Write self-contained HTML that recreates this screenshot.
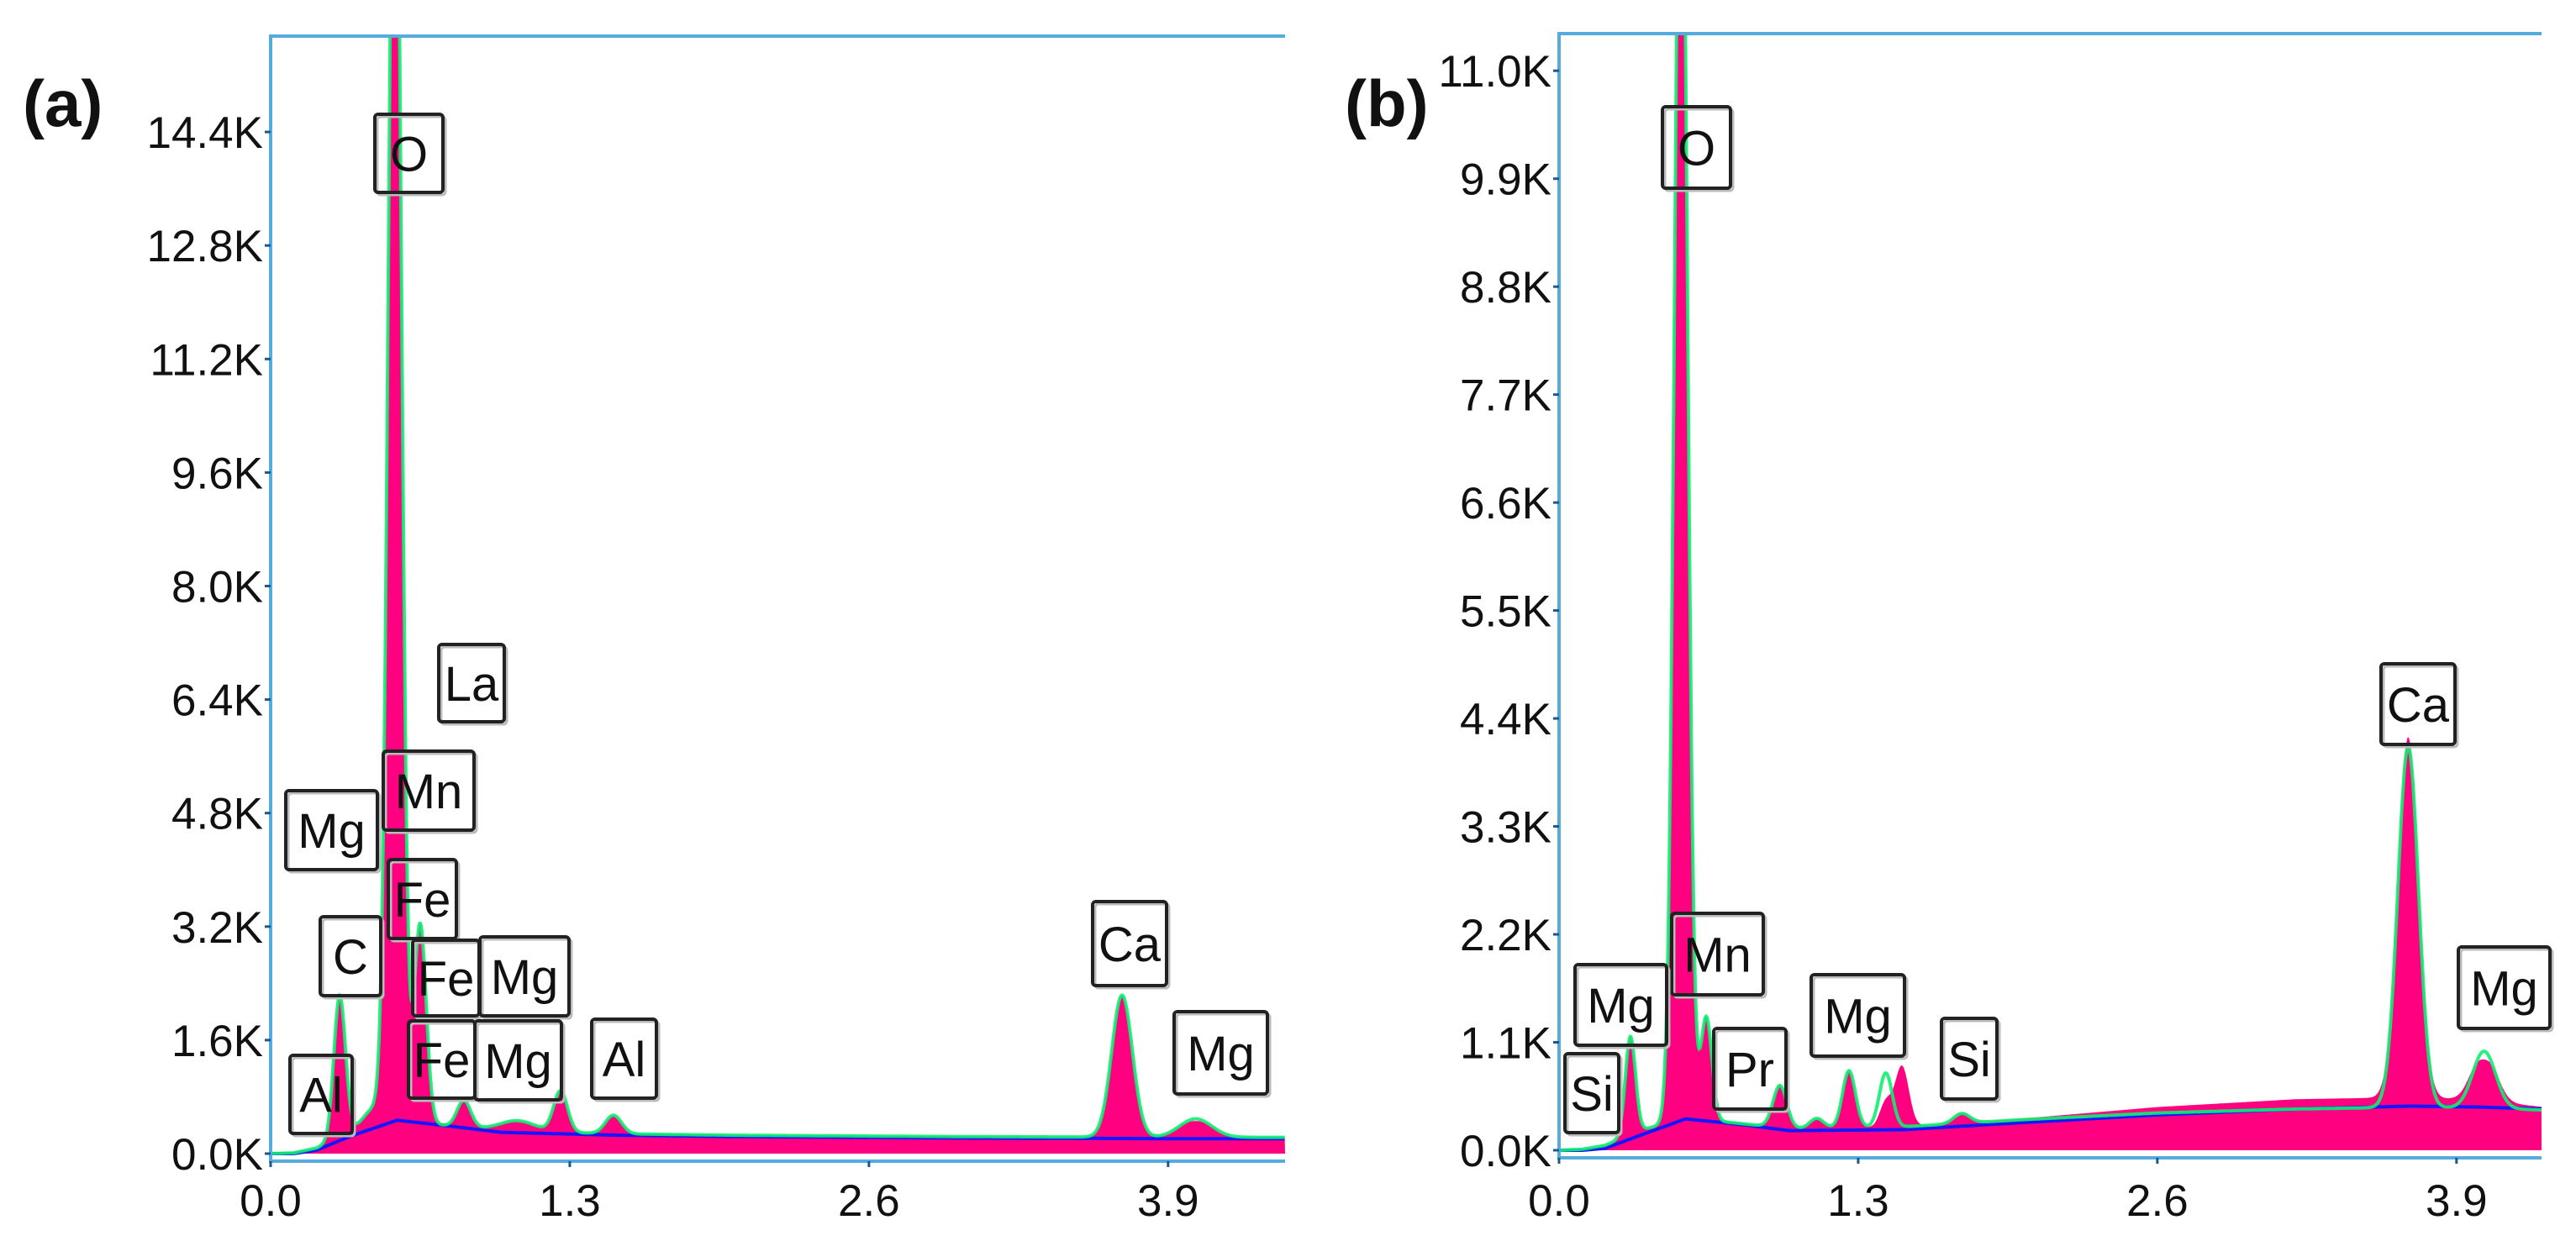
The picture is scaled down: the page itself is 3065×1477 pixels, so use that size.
<!DOCTYPE html>
<html>
<head>
<meta charset="utf-8">
<style>
  html,body{margin:0;padding:0;background:#fff;}
  svg{display:block;}
  text{font-family:"Liberation Sans",sans-serif;}
</style>
</head>
<body>
<svg id="fig" width="3065" height="1477" viewBox="0 0 3065 1477" xmlns="http://www.w3.org/2000/svg">
  <defs>
    <clipPath id="clipA"><rect x="322" y="43" width="1207" height="1336"/></clipPath>
    <clipPath id="clipB"><rect x="1855" y="40" width="1169" height="1336"/></clipPath>
  </defs>
  <text x="27" y="150" font-size="78" font-weight="bold" fill="#111">(a)</text>
  <text x="1600" y="150" font-size="78" font-weight="bold" fill="#111">(b)</text>
  <g id="panelA"></g>
  <g id="panelB"></g>
</svg>
<script>
// ---------- Panel (a) data ----------
const aXTicks = [0.0, 1.3, 2.6, 3.9];
const aXTickLabels = ["0.0", "1.3", "2.6", "3.9"];
const aYTicks = [0, 1.6, 3.2, 4.8, 6.4, 8.0, 9.6, 11.2, 12.8, 14.4];
const aYTickLabels = ["0.0K","1.6K","3.2K","4.8K","6.4K","8.0K","9.6K","11.2K","12.8K","14.4K"];
const aContE = [0, 0.1, 0.2, 0.35, 0.55, 0.8, 1.0, 1.5, 2.0, 3.0, 4.0, 4.41];
const aContV = [0, 0.01, 0.08, 0.3, 0.48, 0.38, 0.32, 0.28, 0.26, 0.24, 0.23, 0.23];
const aBgV   = [0, 0, 0.05, 0.25, 0.47, 0.38, 0.3, 0.26, 0.24, 0.22, 0.21, 0.21];
const aPinkExtraV = [0, 0, 0, 0, 0, 0, 0, 0, 0, 0, 0, 0];
const aPeakE = [0.30, 0.45, 0.54, 0.65, 0.84, 1.07, 1.26, 1.49, 3.70, 4.02];
const aPeakH = [2.0, 0.25, 20.0, 2.8, 0.38, 0.15, 0.58, 0.26, 2.0, 0.26];
const aPeakW = [0.025, 0.05, 0.028, 0.026, 0.03, 0.08, 0.03, 0.035, 0.045, 0.07];
const aPinkPeakE = [4.02];
const aPinkPeakH = [-0.03];
const aLabels = ["O","La","Mn","Mg","Fe","C","Fe","Mg","Fe","Mg","Al","Al","Ca","Mg"];

// ---------- Panel (b) data ----------
const bXTicks = [0.0, 1.3, 2.6, 3.9];
const bXTickLabels = ["0.0", "1.3", "2.6", "3.9"];
const bYTicks = [0, 1.1, 2.2, 3.3, 4.4, 5.5, 6.6, 7.7, 8.8, 9.9, 11.0];
const bYTickLabels = ["0.0K","1.1K","2.2K","3.3K","4.4K","5.5K","6.6K","7.7K","8.8K","9.9K","11.0K"];
const bContE = [0, 0.1, 0.2, 0.35, 0.55, 0.8, 1.0, 1.5, 2.0, 2.6, 3.2, 3.7, 4.0, 4.28];
const bContV = [0, 0.01, 0.05, 0.2, 0.33, 0.27, 0.22, 0.24, 0.31, 0.38, 0.42, 0.44, 0.43, 0.41];
const bBgV   = [0, 0, 0.02, 0.15, 0.32, 0.26, 0.2, 0.21, 0.28, 0.36, 0.42, 0.45, 0.44, 0.42];
const bPinkExtraV = [0, 0, 0, 0, 0, 0, 0, 0, 0.01, 0.06, 0.1, 0.1, 0.08, 0.03];
const bPeakE = [0.31, 0.53, 0.64, 0.96, 1.12, 1.26, 1.42, 1.75, 3.69, 4.02];
const bPeakH = [1.0, 14.0, 1.05, 0.43, 0.1, 0.58, 0.55, 0.1, 3.67, 0.58];
const bPeakW = [0.022, 0.028, 0.024, 0.03, 0.03, 0.028, 0.028, 0.035, 0.045, 0.05];
const bPinkPeakE = [1.42, 1.49, 4.02];
const bPinkPeakH = [-0.3, 0.62, -0.16];
const bLabels = ["O","Mn","Mg","Si","Pr","Mg","Si","Ca","Mg"];

// ---------- layout (not data) ----------
const layoutA = {x0:322, xr:1529, y0:1373, yTop:43, axisY:1382, pxE:273.8, pxV:84.44, labelRight:313, clip:"clipA",
  boxes:[[446,136,527,229],[522,767,600,859],[456,894,564,988],[340,941,449,1035],[462,1023,543,1117],[381,1091,453,1185],
         [491,1119,570,1209],[571,1115,677,1209],[486,1215,565,1307],[565,1215,668,1309],[345,1256,419,1349],[704,1213,781,1307],
         [1300,1073,1388,1173],[1397,1204,1508,1302]]};
const layoutB = {x0:1855, xr:3024, y0:1369, yTop:40, axisY:1378, pxE:273.8, pxV:116.8, labelRight:1846, clip:"clipB",
  boxes:[[1978,127,2059,224],[1989,1087,2098,1184],[1874,1148,1983,1244],[1862,1254,1926,1348],[2039,1224,2125,1320],
         [2155,1160,2266,1257],[2310,1212,2376,1308],[2833,790,2921,886],[2925,1127,3034,1224]]};

const NS = "http://www.w3.org/2000/svg";
function mk(tag, attrs, parent){
  const e = document.createElementNS(NS, tag);
  for (const k in attrs) e.setAttribute(k, attrs[k]);
  parent.appendChild(e);
  return e;
}
function interp(xs, ys, x){
  if (x <= xs[0]) return ys[0];
  for (let i=1;i<xs.length;i++){
    if (x <= xs[i]){ const t=(x-xs[i-1])/(xs[i]-xs[i-1]); return ys[i-1]+t*(ys[i]-ys[i-1]); }
  }
  return ys[ys.length-1];
}
function peaksSum(E, pe, ph, pw){
  let s=0;
  for (let i=0;i<pe.length;i++){ const w = pw ? pw[i] : 0.03; s += ph[i]*Math.exp(-(E-pe[i])*(E-pe[i])/(2*w*w)); }
  return s;
}

function drawPanel(g, L, d){
  const xS = e => L.x0 + e*L.pxE;
  const yS = v => L.y0 - v*L.pxV;
  const eMax = (L.xr - L.x0)/L.pxE;
  const step = 0.003;
  let pink = "", green = "", blue = "";
  let first = true;
  for (let e=0; e<=eMax+1e-9; e+=step){
    const c = interp(d.contE, d.contV, e);
    const fit = c + peaksSum(e, d.peakE, d.peakH, d.peakW);
    const meas = Math.max(0, fit + interp(d.contE, d.pinkExtraV, e) + peaksSum(e, d.pinkPeakE, d.pinkPeakH, null));
    const bg = interp(d.contE, d.bgV, e);
    const X = xS(e).toFixed(1);
    pink += (first ? "M"+X+","+yS(0)+" L" : " L") + X + "," + yS(meas).toFixed(1);
    green += (first ? "M" : " L") + X + "," + yS(fit).toFixed(1);
    blue += (first ? "M" : " L") + X + "," + yS(bg).toFixed(1);
    first = false;
  }
  pink += " L" + xS(eMax).toFixed(1) + "," + yS(0) + " Z";
  const plot = mk("g", {"clip-path":"url(#"+L.clip+")"}, g);
  const pA = mk("path", {d:pink, fill:"#ff0080", stroke:"none"}, plot);
  
  
  const bL = mk("path", {d:blue, fill:"none", stroke:"#1515ff", "stroke-width":4}, plot);
  
  
  const gL = mk("path", {d:green, fill:"none", stroke:"#10f070", "stroke-width":4, "stroke-opacity":0.9}, plot);
  
  

  // frame
  const fr = mk("path", {d:"M"+L.xr+","+L.yTop+" L"+L.x0+","+L.yTop+" L"+L.x0+","+L.axisY+" L"+L.xr+","+L.axisY, fill:"none", stroke:"#55aade", "stroke-width":4}, g);
  
  

  // y ticks
  for (let i=0;i<d.yTicks.length;i++){
    const y = yS(d.yTicks[i]);
    const t = mk("line", {x1:L.x0-7, x2:L.x0, y1:y, y2:y, stroke:"#1a5a8a", "stroke-width":3}, g);
    
    
    const lb = mk("text", {x:L.labelRight, y:y+19, "text-anchor":"end", "font-size":53, fill:"#111"}, g);
    lb.textContent = d.yTickLabels[i];
    
    
  }
  // x ticks
  for (let i=0;i<d.xTicks.length;i++){
    const x = xS(d.xTicks[i]);
    const t = mk("line", {x1:x, x2:x, y1:L.axisY, y2:L.axisY+7, stroke:"#1a5a8a", "stroke-width":3}, g);
    
    
    const lb = mk("text", {x:x, y:1447, "text-anchor":"middle", "font-size":53, fill:"#111"}, g);
    lb.textContent = d.xTickLabels[i];
    
    
  }
  // element labels
  for (let i=0;i<d.labels.length;i++){
    const b = L.boxes[i];
    const bg = mk("g", {}, g);
    
    
    mk("rect", {x:b[0]+3, y:b[1]+3, width:b[2]-b[0], height:b[3]-b[1], rx:4, fill:"none", stroke:"#bbb", "stroke-width":3}, bg);
    mk("rect", {x:b[0], y:b[1], width:b[2]-b[0], height:b[3]-b[1], rx:4, fill:"none", stroke:"#222", "stroke-width":4}, bg);
    const tx = mk("text", {x:(b[0]+b[2])/2, y:(b[1]+b[3])/2+21, "text-anchor":"middle", "font-size":58, fill:"#111"}, bg);
    tx.textContent = d.labels[i];
  }
}

drawPanel(document.getElementById("panelA"), layoutA, {
  xTicks:aXTicks, xTickLabels:aXTickLabels, yTicks:aYTicks, yTickLabels:aYTickLabels,
  contE:aContE, contV:aContV, bgV:aBgV, pinkExtraV:aPinkExtraV,
  peakE:aPeakE, peakH:aPeakH, peakW:aPeakW, pinkPeakE:aPinkPeakE, pinkPeakH:aPinkPeakH, labels:aLabels});
drawPanel(document.getElementById("panelB"), layoutB, {
  xTicks:bXTicks, xTickLabels:bXTickLabels, yTicks:bYTicks, yTickLabels:bYTickLabels,
  contE:bContE, contV:bContV, bgV:bBgV, pinkExtraV:bPinkExtraV,
  peakE:bPeakE, peakH:bPeakH, peakW:bPeakW, pinkPeakE:bPinkPeakE, pinkPeakH:bPinkPeakH, labels:bLabels});
</script>
</body>
</html>
